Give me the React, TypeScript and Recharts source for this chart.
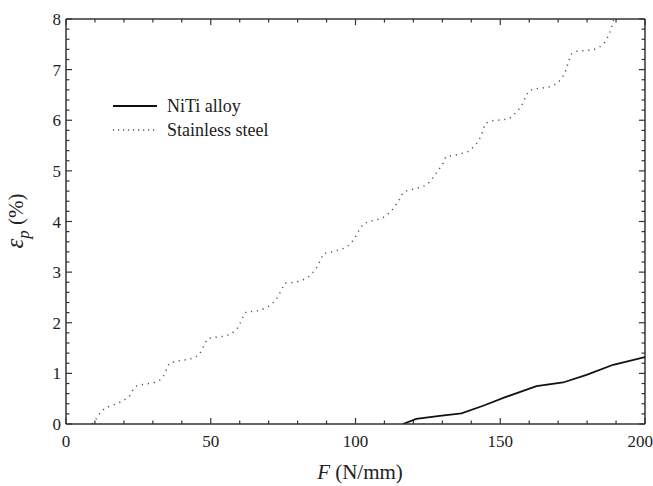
import { Line, LineChart, ReferenceLine, XAxis, YAxis } from "recharts";

const niti = [
  { f: 116.4, e: 0 },
  { f: 121, e: 0.1 },
  { f: 129.1, e: 0.16 },
  { f: 136.6, e: 0.21 },
  { f: 144.1, e: 0.36 },
  { f: 152.2, e: 0.54 },
  { f: 162.5, e: 0.75 },
  { f: 171.7, e: 0.82 },
  { f: 179.8, e: 0.97 },
  { f: 189, e: 1.17 },
  { f: 200, e: 1.32 },
];

const steelF = [
  9.0, 10.7, 11.9, 13.8, 15.8, 17.8, 19.8, 21.9, 23, 24.4, 26.5, 28.6, 30.5, 32.5, 34, 34.8, 35.8, 37.7,
  39.8, 41.9, 43.8, 45.9, 47.1, 47.9, 49.1, 51.1, 53.1, 55.1, 57.1, 59.1, 60.2, 61.1, 62.3, 64.4, 66.5,
  68.5, 70.5, 72.5, 73.8, 74.7, 75.5, 77.6, 79.8, 81.9, 83.8, 85.6, 87, 88, 89, 91.1, 93.1, 95.1, 97.1,
  99.1, 100.3, 101.4, 102.8, 104.9, 106.9, 109, 110.9, 112.7, 114.1, 115.3, 116.4, 118.2, 120.1, 122.2,
  124.2, 126, 127.4, 128.8, 130.3, 131.2, 133.2, 135.2, 137, 138.8, 140.9, 142.4, 143.5, 144.9, 147, 149,
  151, 153.1, 155, 156.8, 157.9, 158.8, 160, 162, 164, 166, 167.7, 169.7, 171.4, 172.5, 173.1, 173.8,
  174.6, 176.1, 178, 180, 182.1, 184.2, 186.1, 187.3, 188.1, 188.7, 189.2,
];
const steelE = [
  0, 0.12, 0.23, 0.33, 0.36, 0.41, 0.46, 0.55, 0.66, 0.75, 0.78, 0.8, 0.82, 0.87, 0.97, 1.1, 1.21, 1.23,
  1.26, 1.27, 1.3, 1.36, 1.48, 1.59, 1.69, 1.71, 1.72, 1.74, 1.78, 1.88, 2.0, 2.11, 2.22, 2.22, 2.24,
  2.28, 2.34, 2.45, 2.58, 2.68, 2.78, 2.79, 2.81, 2.85, 2.91, 3.01, 3.13, 3.25, 3.37, 3.39, 3.42, 3.45, 3.5,
  3.62, 3.73, 3.85, 3.96, 4.0, 4.03, 4.06, 4.13, 4.23, 4.34, 4.45, 4.57, 4.62, 4.64, 4.67,
  4.71, 4.8, 4.92, 5.03, 5.15, 5.28, 5.3, 5.32, 5.35, 5.38, 5.48, 5.58, 5.71, 5.94, 5.99, 6.0,
  6.01, 6.03, 6.13, 6.24, 6.35, 6.47, 6.59, 6.62, 6.63, 6.65, 6.67, 6.73, 6.84, 6.96, 7.07, 7.19,
  7.31, 7.36, 7.37, 7.38, 7.39, 7.44, 7.54, 7.66, 7.77, 7.89, 8.0,
];
const steel = steelF.map((f, i) => ({ f, e: steelE[i] }));

const xMajor = [0, 50, 100, 150, 200];
const xMinor = [10, 20, 30, 40, 60, 70, 80, 90, 110, 120, 130, 140, 160, 170, 180, 190];
const yMajor = [0, 1, 2, 3, 4, 5, 6, 7, 8];
const yMinor = [
  0.2, 0.4, 0.6, 0.8, 1.2, 1.4, 1.6, 1.8, 2.2, 2.4, 2.6, 2.8, 3.2, 3.4, 3.6, 3.8,
  4.2, 4.4, 4.6, 4.8, 5.2, 5.4, 5.6, 5.8, 6.2, 6.4, 6.6, 6.8, 7.2, 7.4, 7.6, 7.8,
];

const X_MAX = 200;
const Y_MAX = 8;

const FONT = "'Liberation Serif', 'Times New Roman', Times, 'DejaVu Serif', serif";
const AXIS = "#333";
const tickFont = { fontFamily: FONT, fontSize: 17, fill: "#222" };

// inward tick lengths, in data units (about 6px major, 3.5px minor)
const X_TICK_MAJOR = 0.12;
const X_TICK_MINOR = 0.07;
const Y_TICK_MAJOR = 2.1;
const Y_TICK_MINOR = 1.2;

function xTicks(values: number[], len: number) {
  return values.flatMap((v) => [
    <ReferenceLine
      key={`b${v}`}
      segment={[{ x: v, y: 0 }, { x: v, y: len }]}
      stroke={AXIS}
      strokeWidth={1.2}
    />,
    <ReferenceLine
      key={`t${v}`}
      segment={[{ x: v, y: Y_MAX }, { x: v, y: Y_MAX - len }]}
      stroke={AXIS}
      strokeWidth={1.2}
    />,
  ]);
}

function yTicks(values: number[], len: number) {
  return values.flatMap((v) => [
    <ReferenceLine
      key={`l${v}`}
      segment={[{ x: 0, y: v }, { x: len, y: v }]}
      stroke={AXIS}
      strokeWidth={1.2}
    />,
    <ReferenceLine
      key={`r${v}`}
      segment={[{ x: X_MAX, y: v }, { x: X_MAX - len, y: v }]}
      stroke={AXIS}
      strokeWidth={1.2}
    />,
  ]);
}

function LegendBox() {
  return (
    <svg
      width={190}
      height={46}
      style={{ position: "absolute", left: 113, top: 96, display: "block" }}
    >
      <line x1={0} x2={44} y1={10} y2={10} stroke="#111" strokeWidth={1.8} />
      <text x={54} y={16} style={{ fontFamily: FONT, fontSize: 18 }} fill="#222">
        NiTi alloy
      </text>
      <line x1={0} x2={44} y1={34} y2={34} stroke="#555" strokeWidth={1.4} strokeDasharray="1.2 3.8" />
      <text x={54} y={40} style={{ fontFamily: FONT, fontSize: 18 }} fill="#222">
        Stainless steel
      </text>
    </svg>
  );
}

function YLabel() {
  return (
    <text
      x={23}
      y={221}
      transform="rotate(-90, 23, 221)"
      textAnchor="middle"
      style={{ fontFamily: FONT }}
      fill="#222"
    >
      <tspan fontStyle="italic" fontSize={25}>ε</tspan>
      <tspan fontStyle="italic" fontSize={17} dy={6}>p</tspan>
      <tspan fontSize={21} dy={-6}> (%)</tspan>
    </text>
  );
}

function XLabel() {
  return (
    <text x={360} y={479} textAnchor="middle" style={{ fontFamily: FONT, fontSize: 21 }} fill="#222">
      <tspan fontStyle="italic">F</tspan>
      <tspan> (N/mm)</tspan>
    </text>
  );
}

export default function App() {
  return (
    <div style={{ position: "absolute", left: 0, top: 0, width: 653, height: 486, background: "#fff" }}>
      <LineChart width={653} height={486} margin={{ top: 19, right: 8, bottom: 32, left: 26 }}>
        <XAxis
          dataKey="f"
          type="number"
          domain={[0, X_MAX]}
          ticks={xMajor}
          allowDataOverflow
          height={30}
          stroke={AXIS}
          strokeWidth={1.5}
          tickLine={false}
          tickSize={0}
          tickMargin={11}
          tick={tickFont}
          label={<XLabel />}
        />
        <YAxis
          type="number"
          domain={[0, Y_MAX]}
          ticks={yMajor}
          allowDataOverflow
          width={40}
          stroke={AXIS}
          strokeWidth={1.5}
          tickLine={false}
          tickSize={0}
          tickMargin={5}
          tick={tickFont}
          label={<YLabel />}
        />
        <ReferenceLine y={Y_MAX} stroke={AXIS} strokeWidth={1.5} />
        <ReferenceLine x={X_MAX} stroke={AXIS} strokeWidth={1.5} />
        {xTicks(xMajor, X_TICK_MAJOR)}
        {xTicks(xMinor, X_TICK_MINOR)}
        {yTicks(yMajor, Y_TICK_MAJOR)}
        {yTicks(yMinor, Y_TICK_MINOR)}
        <Line
          data={niti}
          dataKey="e"
          name="NiTi alloy"
          type="linear"
          stroke="#111"
          strokeWidth={1.8}
          dot={false}
          isAnimationActive={false}
        />
        <Line
          data={steel}
          dataKey="e"
          name="Stainless steel"
          type="linear"
          stroke="#555"
          strokeWidth={1.5}
          strokeDasharray="1.2 4.8"
          dot={false}
          isAnimationActive={false}
        />
      </LineChart>
      <LegendBox />
    </div>
  );
}
